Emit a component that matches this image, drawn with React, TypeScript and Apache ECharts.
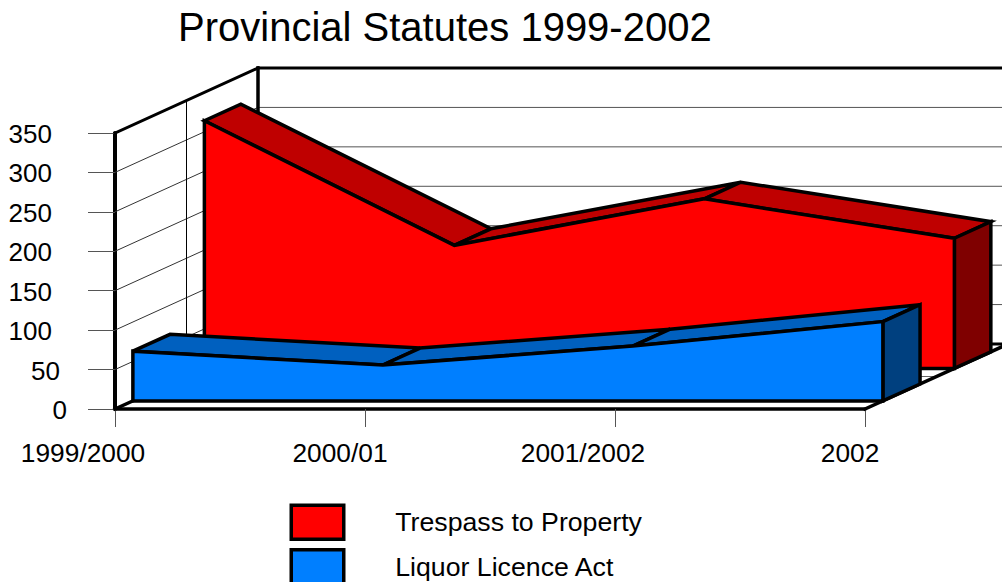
import React, { useEffect, useRef } from "react";
import * as echarts from "echarts";

const categories = ["1999/2000", "2000/01", "2001/2002", "2002"];
const trespass = [314, 156, 215, 165];
const liquor = [63, 45.5, 69.5, 100.5];
const yTicks = [0, 50, 100, 150, 200, 250, 300, 350];
const labelShift = [64, 50, 64, 30];

const DX = 143;
const DY = 65;
const FONT = "Liberation Sans";
const FAR_X = 3;

function App() {
  const ref = useRef<HTMLDivElement>(null);
  useEffect(() => {
    const chart = echarts.init(ref.current!, undefined, { renderer: "svg" });
    const shift = (p: number[], d: number) => [p[0] + d * DX, p[1] - d * DY];

    const frameRender = (_: any, api: any) => {
      const c = (x: number, y: number, d: number) => shift(api.coord([x, y]), d);
      const children: any[] = [];
      const line = (a: number[], b: number[], width: number, stroke = "#000") =>
        children.push({
          type: "line",
          shape: { x1: a[0], y1: a[1], x2: b[0], y2: b[1] },
          style: { stroke, lineWidth: width, lineCap: "square" },
        });
      const top = yTicks[yTicks.length - 1];
      const o0 = c(0, 0, 1);
      const farX = c(FAR_X, 0, 1)[0] + 10;
      yTicks.forEach((v) => {
        const f = c(0, v, 0);
        const b = c(0, v, 1);
        if (v > 0 && v < top) line(f, b, 1, "#333");
        if (v > 0 && v < top) line(b, [farX, b[1]], 1, "#555");
      });
      line(c(0, 0, 0.5), c(0, top, 0.5), 1, "#000");
      const m = c(0, 0, 0.5);
      line(m, [c(FAR_X, 0, 0.5)[0], m[1]], 1, "#666");
      line(c(0, top, 1), [farX, c(0, top, 1)[1]], 3);
      line(c(0, top, 1), o0, 3.5);
      line(o0, [farX, o0[1]], 3);
      line(c(0, top, 0), c(0, top, 1), 3);
      line(c(0, 0, 0), c(0, 0, 1), 3.5);
      line(c(FAR_X, 0, 0), c(FAR_X, 0, 1), 3.5);
      return { type: "group", children };
    };

    const areaRender =
      (values: number[], d0: number, d1: number, front: string, topC: string, side: string) =>
      (_: any, api: any) => {
        const c = (x: number, y: number, d: number) => shift(api.coord([x, y]), d);
        const n = values.length;
        const style = (fill: string) => ({
          fill,
          stroke: "#000",
          lineWidth: 3.5,
          lineJoin: "miter",
        });
        const poly = (pts: number[][], fill: string) => ({
          type: "polygon",
          shape: { points: pts },
          style: style(fill),
        });
        const children: any[] = [];
        for (let i = 0; i < n - 1; i++) {
          children.push(
            poly(
              [
                c(i, values[i], d0),
                c(i + 1, values[i + 1], d0),
                c(i + 1, values[i + 1], d1),
                c(i, values[i], d1),
              ],
              topC,
            ),
          );
        }
        children.push(
          poly(
            [
              c(n - 1, 0, d0),
              c(n - 1, values[n - 1], d0),
              c(n - 1, values[n - 1], d1),
              c(n - 1, 0, d1),
            ],
            side,
          ),
        );
        const pts = [c(0, 0, d0)];
        values.forEach((v, i) => pts.push(c(i, v, d0)));
        pts.push(c(n - 1, 0, d0));
        children.push(poly(pts, front));
        return { type: "group", children };
      };

    const catData = categories.map((_, i) => [i, 0]);

    chart.setOption({
      animation: false,
      backgroundColor: "#fff",
      textStyle: { fontFamily: FONT },
      title: {
        text: "Provincial Statutes 1999-2002",
        left: 178,
        top: 7,
        padding: 0,
        textStyle: { fontFamily: FONT, fontSize: 40, fontWeight: "normal", color: "#000" },
      },
      legend: {
        orient: "vertical",
        left: 289.5,
        top: 503.5,
        height: 200,
        padding: 0,
        itemWidth: 52.5,
        itemHeight: 34,
        itemGap: 7,
        selectedMode: false,
        textStyle: {
          fontFamily: FONT,
          fontSize: 26.7,
          color: "#000",
          padding: [0, 0, 0, 46.5],
        },
        data: [
          {
            name: "Trespass to Property",
            icon: "rect",
            itemStyle: { color: "#FF0000", borderColor: "#000", borderWidth: 3.5 },
          },
          {
            name: "Liquor Licence Act",
            icon: "rect",
            itemStyle: { color: "#007FFF", borderColor: "#000", borderWidth: 3.5 },
          },
        ],
      },
      grid: { left: 115, top: 133, width: 750, height: 276, containLabel: false },
      xAxis: {
        type: "category",
        boundaryGap: false,
        data: categories,
        axisLine: { show: true, lineStyle: { color: "#000", width: 3.5 } },
        axisTick: { show: true, length: 18, lineStyle: { color: "#555", width: 1 } },
        axisLabel: {
          show: true,
          interval: 0,
          margin: 31,
          color: "#000",
          fontFamily: FONT,
          fontSize: 26.3,
          hideOverlap: false,
          showMinLabel: true,
          showMaxLabel: true,
          formatter: (v: string) => `{s${categories.indexOf(v)}|${v}}`,
          rich: Object.fromEntries(
            labelShift.map((p, i) => [
              `s${i}`,
              { padding: [0, p, 0, 0], fontFamily: FONT, fontSize: 26.3, color: "#000" },
            ]),
          ),
        },
        splitLine: { show: false },
      },
      yAxis: {
        type: "value",
        min: 0,
        max: 350,
        interval: 50,
        axisLine: { show: true, lineStyle: { color: "#000", width: 4 } },
        axisTick: { show: true, length: 27, lineStyle: { color: "#555", width: 1 } },
        axisLabel: {
          margin: 47,
          color: "#000",
          fontFamily: FONT,
          fontSize: 26,
          formatter: (v: number) => `{d${String(v).length}|${v}}`,
          rich: {
            d1: { padding: [2, 1, 0, 0], fontFamily: FONT, fontSize: 26, color: "#000" },
            d2: { padding: [2, 8, 0, 0], fontFamily: FONT, fontSize: 26, color: "#000" },
            d3: { padding: [2, 16, 0, 0], fontFamily: FONT, fontSize: 26, color: "#000" },
          },
        },
        splitLine: { show: false },
      },
      series: [
        {
          type: "custom",
          name: "frame",
          silent: true,
          clip: false,
          renderItem: (p: any, api: any) => (p.dataIndex === 0 ? frameRender(p, api) : null),
          data: catData,
          z: 1,
        },
        {
          type: "custom",
          name: "Trespass to Property",
          clip: false,
          silent: true,
          renderItem: (p: any, api: any) =>
            p.dataIndex === 0
              ? areaRender(trespass, 0.625, 0.88, "#FF0000", "#BF0000", "#7F0000")(p, api)
              : null,
          data: trespass.map((v, i) => [i, v]),
          itemStyle: { color: "#FF0000" },
          z: 3,
        },
        {
          type: "custom",
          name: "Liquor Licence Act",
          clip: false,
          silent: true,
          renderItem: (p: any, api: any) =>
            p.dataIndex === 0
              ? areaRender(liquor, 0.125, 0.385, "#007FFF", "#0060BF", "#00407F")(p, api)
              : null,
          data: liquor.map((v, i) => [i, v]),
          itemStyle: { color: "#007FFF" },
          z: 4,
        },
      ],
    });
    return () => chart.dispose();
  }, []);
  return (
    <div
      ref={ref}
      style={{ position: "fixed", left: 0, top: 0, width: 1002, height: 582, overflow: "hidden" }}
    />
  );
}

export default App;
